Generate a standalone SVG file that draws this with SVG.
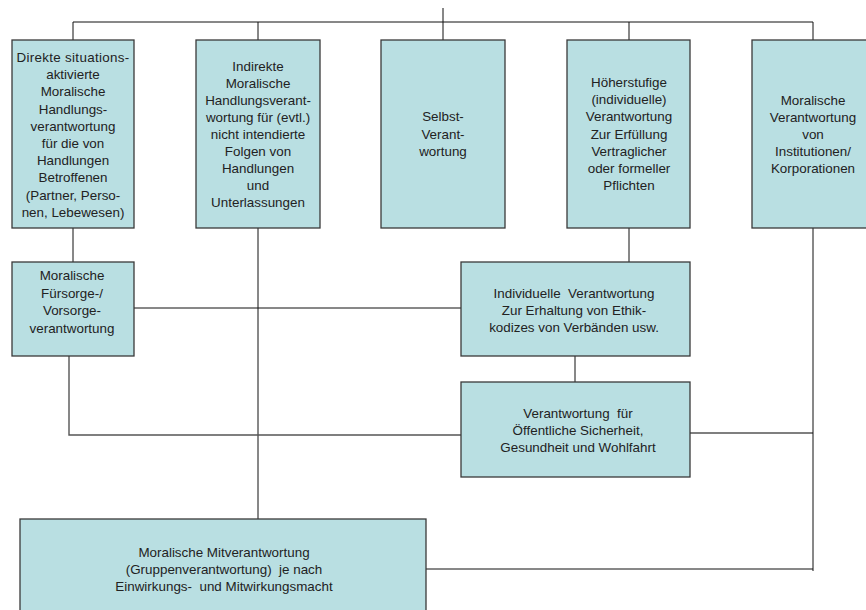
<svg xmlns="http://www.w3.org/2000/svg" width="866" height="610" viewBox="0 0 866 610">
  <style>
    .box { fill: #b9dfe2; stroke: #3a3a3a; stroke-width: 1.3; }
    .wire { fill: none; stroke: #111; stroke-width: 1; }
    .wire-g { fill: none; stroke: #555; stroke-width: 1.4; }
    text { font-family: "Liberation Sans", Arial, sans-serif; font-size: 13.4px; fill: #222; text-anchor: middle; }
  </style>
  <rect width="866" height="610" fill="#fff"/>

  <!-- connectors -->
  <g id="connectors">
    <path class="wire" d="M443,8 V22 M73,40 V22 H813 V40 M258,22 V40 M443,22 V40 M629,22 V40"/>
    <path class="wire" d="M73,228 V262"/>
    <path class="wire" d="M258,228 V519"/>
    <path class="wire" d="M629,228 V262"/>
    <path class="wire" d="M134,308 H461"/>
    <path class="wire" d="M575,356 V382"/>
    <path class="wire-g" d="M69,356 V435 H461"/>
    <path class="wire-g" d="M690,433 H813"/>
    <path class="wire" d="M813,228 V571"/>
    <path class="wire" d="M426,569 H813"/>
  </g>

  <!-- top row -->
  <g id="direkt">
    <rect class="box" x="12" y="40" width="122" height="188"/>
    <text x="73" y="62" letter-spacing="0.3">Direkte situations-</text>
    <text x="73" y="79.2">aktivierte</text>
    <text x="73" y="96.4">Moralische</text>
    <text x="73" y="113.6">Handlungs-</text>
    <text x="73" y="130.8">verantwortung</text>
    <text x="73" y="148">für die von</text>
    <text x="73" y="165.2">Handlungen</text>
    <text x="73" y="182.4">Betroffenen</text>
    <text x="73" y="199.6">(Partner, Perso-</text>
    <text x="73" y="216.8">nen, Lebewesen)</text>
  </g>

  <g id="indirekt">
    <rect class="box" x="196" y="40" width="124" height="188"/>
    <text x="258" y="70.5">Indirekte</text>
    <text x="258" y="87.6">Moralische</text>
    <text x="258" y="104.7">Handlungsverant-</text>
    <text x="258" y="121.9">wortung für (evtl.)</text>
    <text x="258" y="139">nicht intendierte</text>
    <text x="258" y="156.1">Folgen von</text>
    <text x="258" y="173.2">Handlungen</text>
    <text x="258" y="190.3">und</text>
    <text x="258" y="207.4">Unterlassungen</text>
  </g>

  <g id="selbst">
    <rect class="box" x="381" y="40" width="124" height="188"/>
    <text x="443" y="121">Selbst-</text>
    <text x="443" y="138.5">Verant-</text>
    <text x="443" y="156">wortung</text>
  </g>

  <g id="hoeherstufig">
    <rect class="box" x="567" y="40" width="123" height="188"/>
    <text x="629" y="87">Höherstufige</text>
    <text x="629" y="104.2">(individuelle)</text>
    <text x="629" y="121.4">Verantwortung</text>
    <text x="629" y="138.6">Zur Erfüllung</text>
    <text x="629" y="155.8">Vertraglicher</text>
    <text x="629" y="173">oder formeller</text>
    <text x="629" y="190.2">Pflichten</text>
  </g>

  <g id="institutionen">
    <rect class="box" x="752" y="40" width="124" height="188"/>
    <text x="813" y="104.5">Moralische</text>
    <text x="813" y="121.7">Verantwortung</text>
    <text x="813" y="138.9">von</text>
    <text x="813" y="156.1">Institutionen/</text>
    <text x="813" y="173.3">Korporationen</text>
  </g>

  <!-- middle row -->
  <g id="fuersorge">
    <rect class="box" x="12" y="262" width="122" height="94"/>
    <text x="72" y="280">Moralische</text>
    <text x="72" y="297.6">Fürsorge-/</text>
    <text x="72" y="315.2">Vorsorge-</text>
    <text x="72" y="332.8">verantwortung</text>
  </g>

  <g id="ethikkodizes">
    <rect class="box" x="461" y="262" width="229" height="94"/>
    <text x="574" y="298" xml:space="preserve">Individuelle  Verantwortung</text>
    <text x="574" y="315.2">Zur Erhaltung von Ethik-</text>
    <text x="574" y="332.4">kodizes von Verbänden usw.</text>
  </g>

  <g id="sicherheit">
    <rect class="box" x="461" y="382" width="229" height="95"/>
    <text x="578" y="418" xml:space="preserve">Verantwortung  für</text>
    <text x="578" y="435.2">Öffentliche Sicherheit,</text>
    <text x="578" y="452.4">Gesundheit und Wohlfahrt</text>
  </g>

  <!-- bottom -->
  <g id="mitverantwortung">
    <rect class="box" x="20" y="519" width="406" height="100"/>
    <text x="224" y="557">Moralische Mitverantwortung</text>
    <text x="224" y="574" xml:space="preserve">(Gruppenverantwortung)  je nach</text>
    <text x="224" y="591" xml:space="preserve">Einwirkungs-  und Mitwirkungsmacht</text>
  </g>
</svg>
